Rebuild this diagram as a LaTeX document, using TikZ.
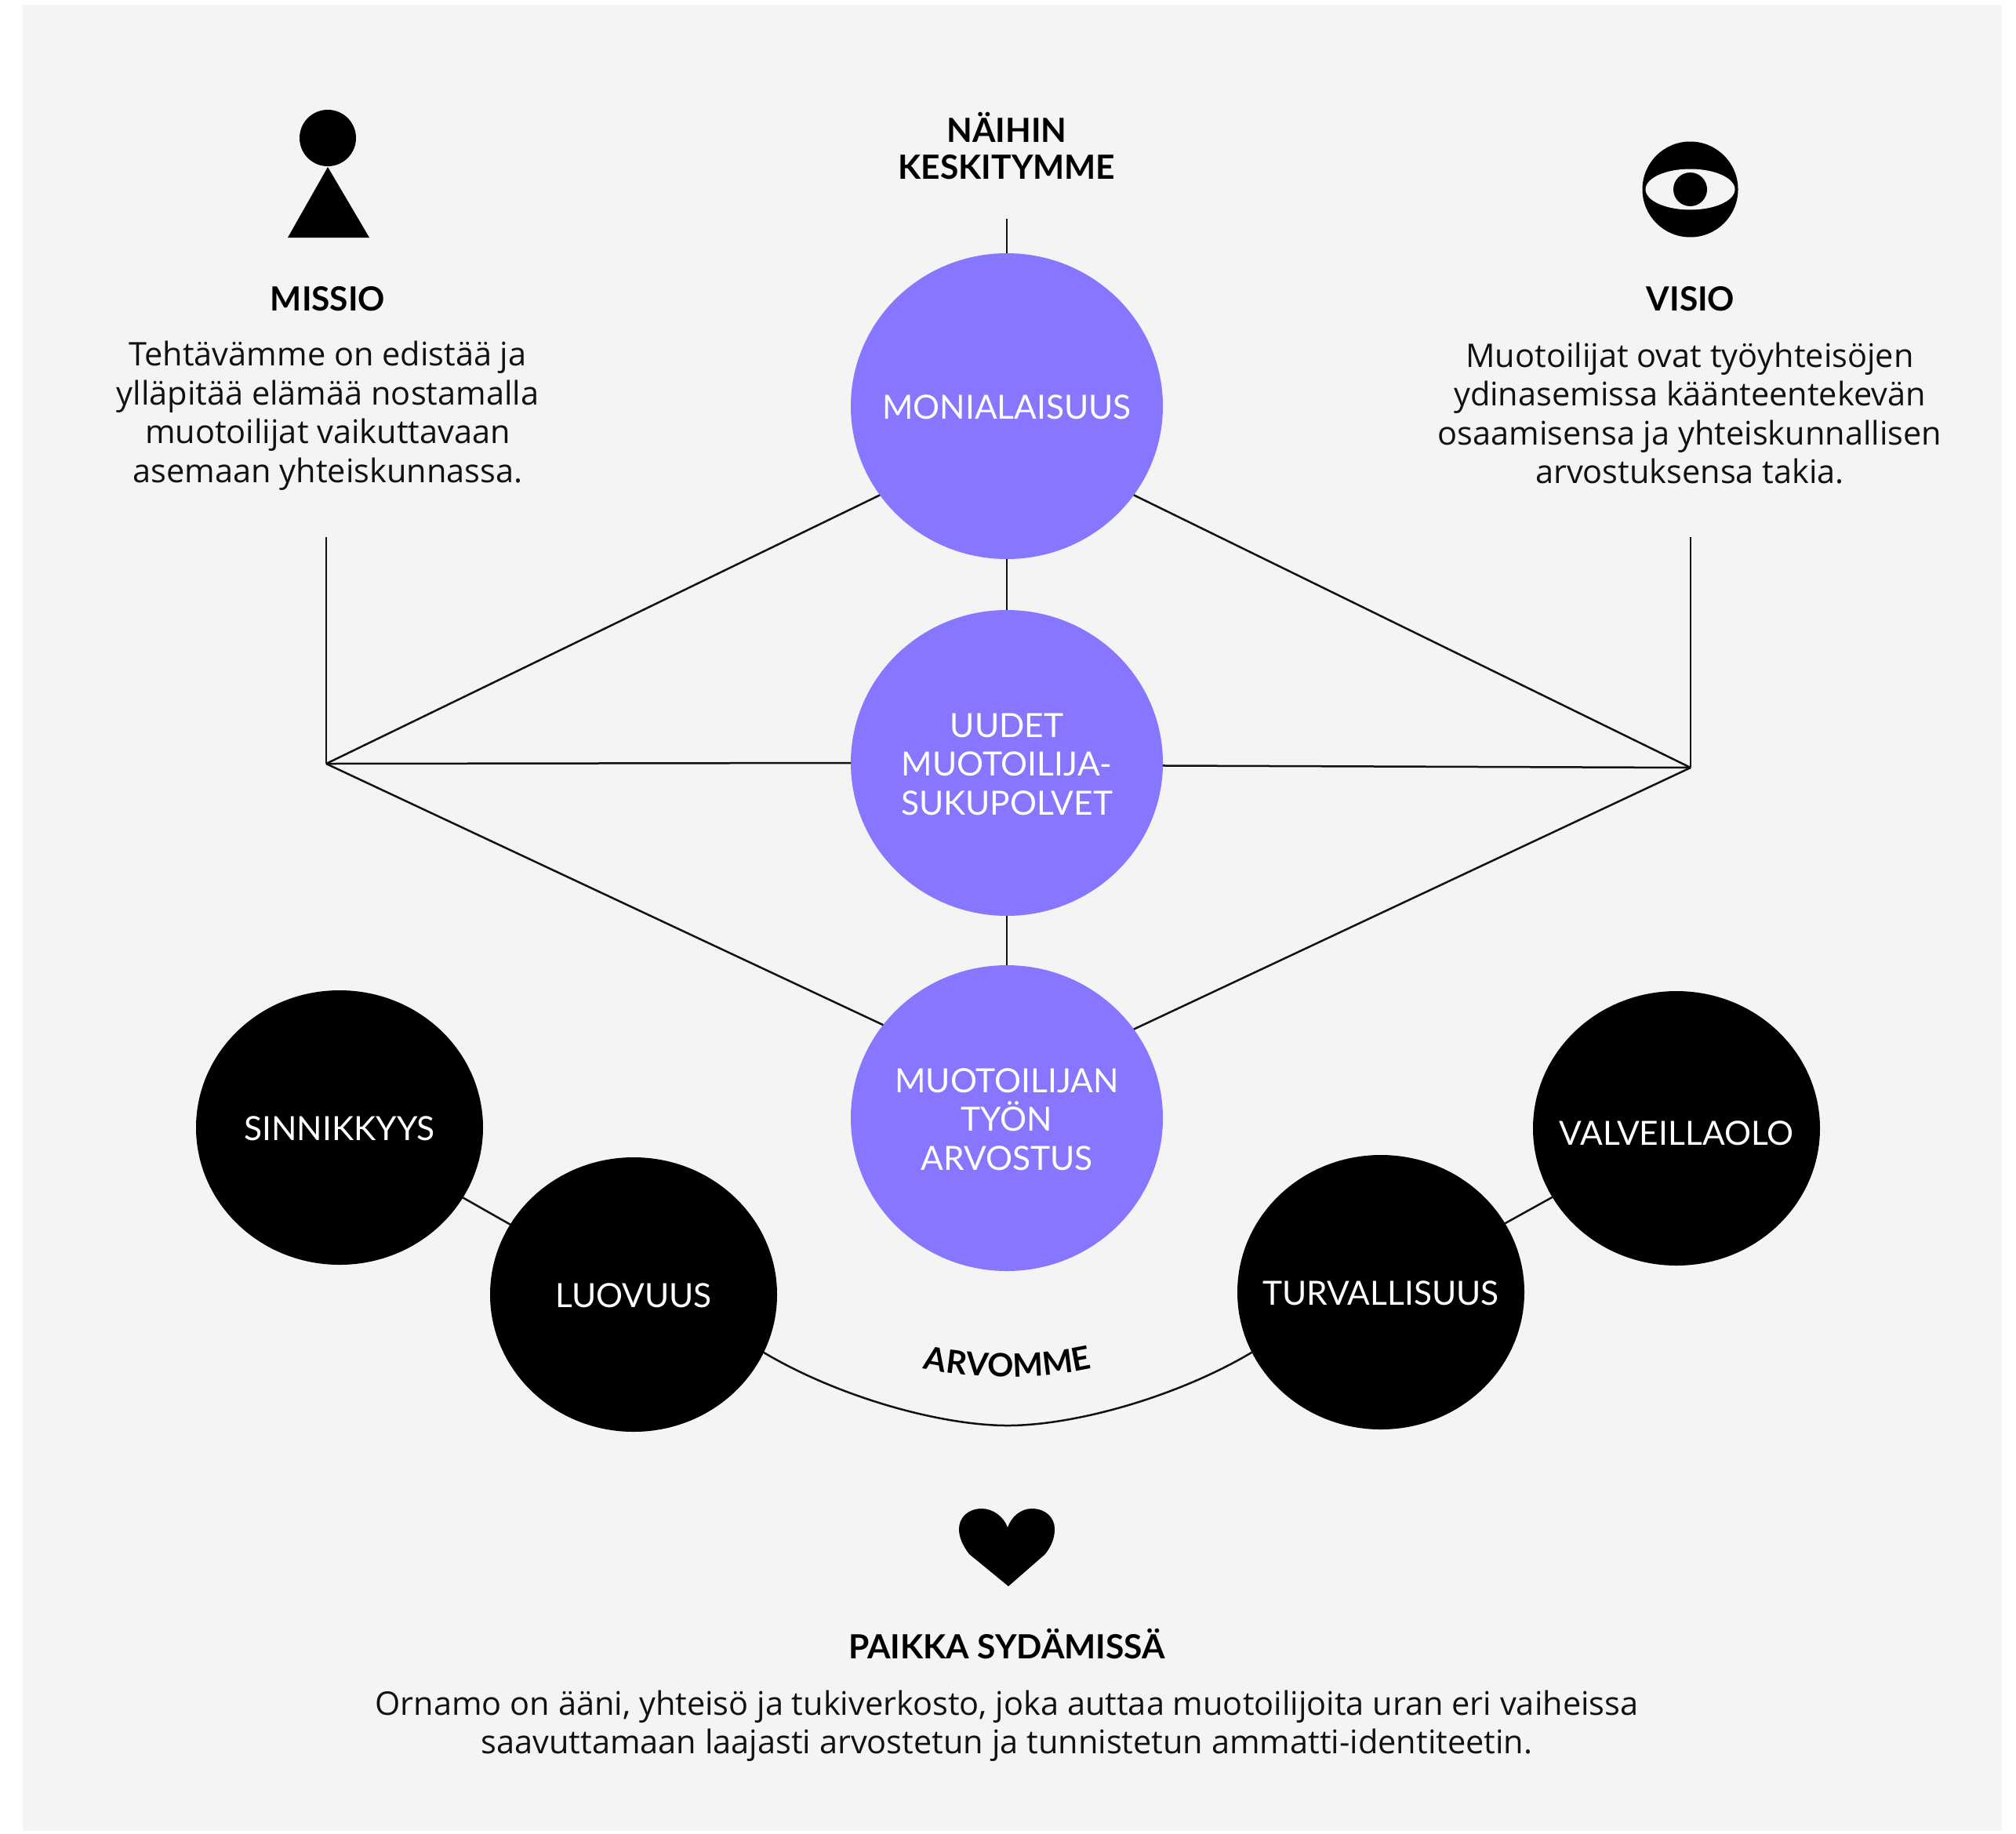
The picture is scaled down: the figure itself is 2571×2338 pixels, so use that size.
\documentclass[tikz,border=0pt]{standalone}
\usepackage{fontspec}
\setmainfont{Open Sans}
\newfontfamily\capsfont{Lato}
\usetikzlibrary{decorations.text,shapes.geometric}
\definecolor{panelbg}{HTML}{F4F4F4}
\definecolor{violet}{HTML}{8776FF}
\definecolor{ink}{HTML}{111111}
\tikzset{
  x=1pt,y=-1pt,
  bigdot/.style={ellipse,fill=violet,draw=none,minimum width=398pt,minimum height=390pt,inner sep=0pt,outer sep=0pt},
  blackdot/.style={ellipse,fill=black,draw=none,minimum width=366pt,minimum height=350pt,inner sep=0pt,outer sep=0pt},
  dotlabel/.style={text=white,align=center,inner sep=0pt,yshift=-1.5pt,font=\capsfont\fontsize{42.5}{49.5}\selectfont},
  head/.style={text=black,align=center,inner sep=0pt,font=\capsfont\fontsize{42.5}{49.5}\selectfont\bfseries},
  body/.style={text=ink,align=center,inner sep=0pt,font=\fontsize{41.5}{49.5}\selectfont},
  link/.style={draw=ink,line width=2.5pt},
  icon/.style={fill=black,draw=none}
}
\begin{document}
\begin{tikzpicture}
\useasboundingbox (0,0) rectangle (2571,2338);
\fill[white] (0,0) rectangle (2571,2338);
\fill[panelbg] (29,6) rectangle (2553,2335);

% circles
\node[bigdot,label={[dotlabel,name=monl]center:MONIALAISUUS}] (mon) at (1284,518) {};
\node[bigdot,label={[dotlabel,name=uudl]center:UUDET\\MUOTOILIJA-\\SUKUPOLVET}] (uud) at (1284,973) {};
\node[bigdot,label={[dotlabel,name=muol]center:MUOTOILIJAN\\TYÖN\\ARVOSTUS}] (muo) at (1284,1426) {};
\node[blackdot,label={[dotlabel,name=sinl]center:SINNIKKYYS}] (sin) at (433,1438) {};
\node[blackdot,label={[dotlabel,name=luol]center:LUOVUUS}] (luo) at (808,1651) {};
\node[blackdot,label={[dotlabel,name=turl]center:TURVALLISUUS}] (tur) at (1761,1648) {};
\node[blackdot,label={[dotlabel,name=vall,yshift=-5pt]center:VALVEILLAOLO}] (val) at (2138,1439) {};

% headings and texts
\node[head] (nai) at (1284,162) {NÄIHIN};
\node[head] (kes) at (1284,213) {KESKITYMME};
\node[head] (mis) at (418,381) {MISSIO};
\node[head] (vis) at (2156,381) {VISIO};
\node[body] (mist) at (418,530) {Tehtävämme on edistää ja\\ylläpitää elämää nostamalla\\muotoilijat vaikuttavaan\\asemaan yhteiskunnassa.};
\node[body] (vist) at (2155,527) {Muotoilijat ovat työyhteisöjen\\ydinasemissa käänteentekevän\\osaamisensa ja yhteiskunnallisen\\arvostuksensa takia.};
\node[head] (pai) at (1284,2096) {PAIKKA SYDÄMISSÄ};
\node[body] (ornt) at (1284,2201) {Ornamo on ääni, yhteisö ja tukiverkosto, joka auttaa muotoilijoita uran eri vaiheissa\\saavuttamaan laajasti arvostetun ja tunnistetun ammatti-identiteetin.};

% connector ends
\coordinate (topend) at (1284,279);
\coordinate (hubL) at (416,974);
\coordinate (hubLtop) at (416,685);
\coordinate (hubR) at (2156,979);
\coordinate (hubRtop) at (2156,685);

% connectors
\draw[link] (topend) -- (mon.north);
\draw[link] (mon.south) -- (uud.north);
\draw[link] (uud.south) -- (muo.north);
\draw[link] (hubLtop) -- (hubL);
\draw[link] (hubRtop) -- (hubR);
\draw[link] (hubL) -- (mon.215);
\draw[link] (hubL) -- (uud.west);
\draw[link] (hubL) -- (muo.143);
\draw[link] (hubR) -- (mon.-35);
\draw[link] (hubR) -- (uud.-1);
\draw[link] (hubR) -- (muo.35);
\draw[link] (sin) -- (luo);
\draw[link] (val) -- (tur);
\draw[link] (luo.-24.4) .. controls (1070,1782) and (1200,1818) .. (1285,1818) .. controls (1370,1818) and (1500,1782) .. (tur.205.6);

% curved label
\path[decorate,decoration={text along path,text align=center,
  text={|\capsfont\fontsize{41}{41}\selectfont\bfseries\color{black}|ARVOMME}}]
  (1150,1738) .. controls (1230,1762) and (1340,1762) .. (1420,1738);

% missio icon
\fill[icon] (418,176) circle[radius=36];
\fill[icon] (418,213) -- (471,303) -- (367,303) -- cycle;

% visio icon
\fill[icon] (2155.5,241.5) circle[radius=61];
\fill[panelbg] (2155.5,241.5) ellipse[x radius=57,y radius=26];
\fill[icon] (2155.5,241.5) circle[radius=21.5];

% heart icon
\fill[icon] (1286,2023) -- (1236,1982)
  .. controls (1227,1970) and (1223,1960) .. (1223,1950)
  .. controls (1223,1935) and (1235,1924) .. (1252,1924)
  .. controls (1266,1924) and (1280,1934) .. (1285,1948)
  .. controls (1290,1934) and (1302,1924) .. (1316,1924)
  .. controls (1333,1924) and (1345,1935) .. (1345,1950)
  .. controls (1345,1960) and (1342,1970) .. (1333,1982) -- cycle;
\end{tikzpicture}
\end{document}
